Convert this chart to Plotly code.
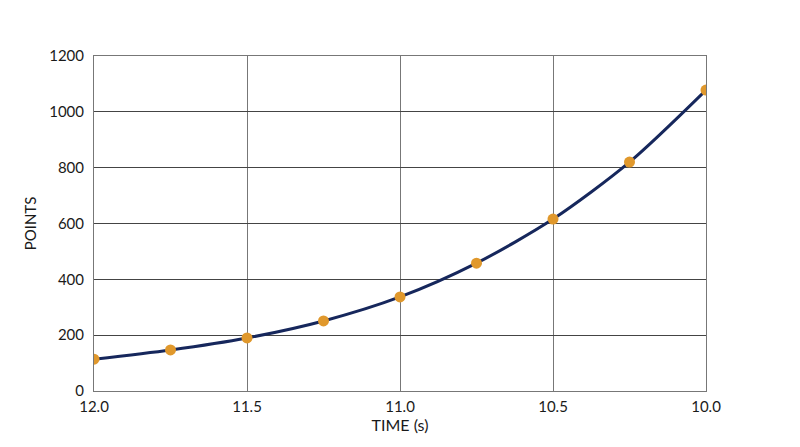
import plotly.graph_objects as go

# datos
tiempo = [12.0, 11.75, 11.5, 11.25, 11.0, 10.75, 10.5, 10.25, 10.0]
puntos = [114, 147, 190, 251, 337, 458, 616, 820, 1078]

x_ticks = [12.0, 11.5, 11.0, 10.5, 10.0]
x_labels = ['12.0', '11.5', '11.0', '10.5', '10.0']

fig = go.Figure()

# curva
fig.add_trace(go.Scatter(x=tiempo, y=puntos, mode='lines',
                         line=dict(color='#16275c', width=3, shape='spline', smoothing=0.8),
                         hoverinfo='skip'))
# marcadores
fig.add_trace(go.Scatter(x=tiempo, y=puntos, mode='markers',
                         marker=dict(color='#e0982c', size=11)))

fig.update_layout(
    width=800, height=447,
    margin=dict(l=86, r=102, t=48, b=64),
    paper_bgcolor='white', plot_bgcolor='white',
    showlegend=False,
    font=dict(family='Lato, sans-serif', size=15, color='#1a1a1a'),
)
fig.update_xaxes(range=[12.0, 10.0], tickvals=x_ticks, ticktext=x_labels,
                 showgrid=True, gridcolor='#777', gridwidth=1,
                 showline=True, linecolor='#777', linewidth=1, mirror=True,
                 zeroline=False, ticks='', ticklabelstandoff=2,
                 title=dict(text='TIME (s)', standoff=4, font=dict(size=16)))
fig.update_yaxes(range=[0, 1200], dtick=200,
                 showgrid=True, gridcolor='#444', gridwidth=1,
                 showline=True, linecolor='#777', linewidth=1, mirror=True,
                 zeroline=False, ticks='', ticklabelstandoff=6,
                 title=dict(text='POINTS', standoff=8, font=dict(size=15)))

fig.write_html("out.html")
